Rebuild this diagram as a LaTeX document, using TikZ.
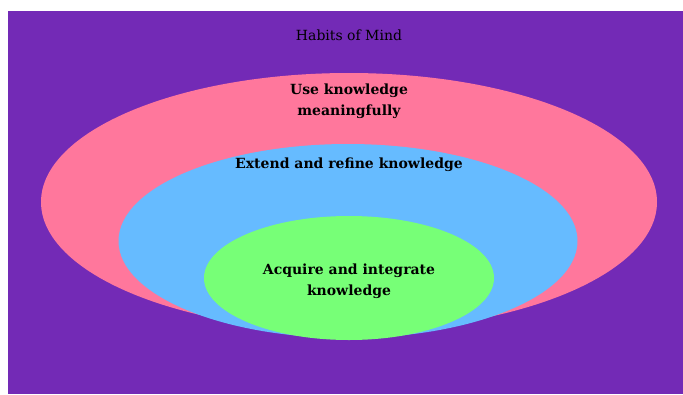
\documentclass[tikz,border=0pt]{standalone}
\usepackage{fontspec}
\setmainfont{DejaVu Serif}
\usepackage{tikz}
\usetikzlibrary{shapes.geometric,positioning}
\definecolor{mindpurple}{HTML}{732AB6}
\definecolor{usepink}{HTML}{FF779C}
\definecolor{extblue}{HTML}{66BBFF}
\definecolor{acqgreen}{HTML}{77FF77}
\tikzset{
  layer/.style={
    ellipse, fill=#1, draw=none, inner sep=0pt
  },
  layer/.default=usepink,
  layertext/.style={
    font=\fontsize{14}{21}\selectfont\bfseries, align=center, text=black
  },
  titletext/.style={
    font=\fontsize{14}{16}\selectfont, text=black
  },
}

\begin{document}
\begin{tikzpicture}[x=1pt,y=-1pt]
  \useasboundingbox (0,0) rectangle (683,394);
  % Background panel
  \fill[mindpurple] (8,11) rectangle (683,394);
  \node[titletext] (title) at (349,35) {Habits of Mind};

  % Nested layers
  \node[layer=usepink, minimum width=616pt, minimum height=258pt] (usek) at (349,202) {};
  \node[layer=extblue, minimum width=459pt, minimum height=194pt] (extk) at (348,241) {};
  \node[layer=acqgreen, minimum width=290pt, minimum height=124pt] (acqk) at (349,278) {};

  % Labels
  \node[layertext] (uselabel) at (349,101) {Use knowledge\\meaningfully};
  \node[layertext] (extlabel) at (349,165) {Extend and refine knowledge};
  \node[layertext] (acqlabel) at (349,281.5) {Acquire and integrate\\knowledge};
\end{tikzpicture}
\end{document}
